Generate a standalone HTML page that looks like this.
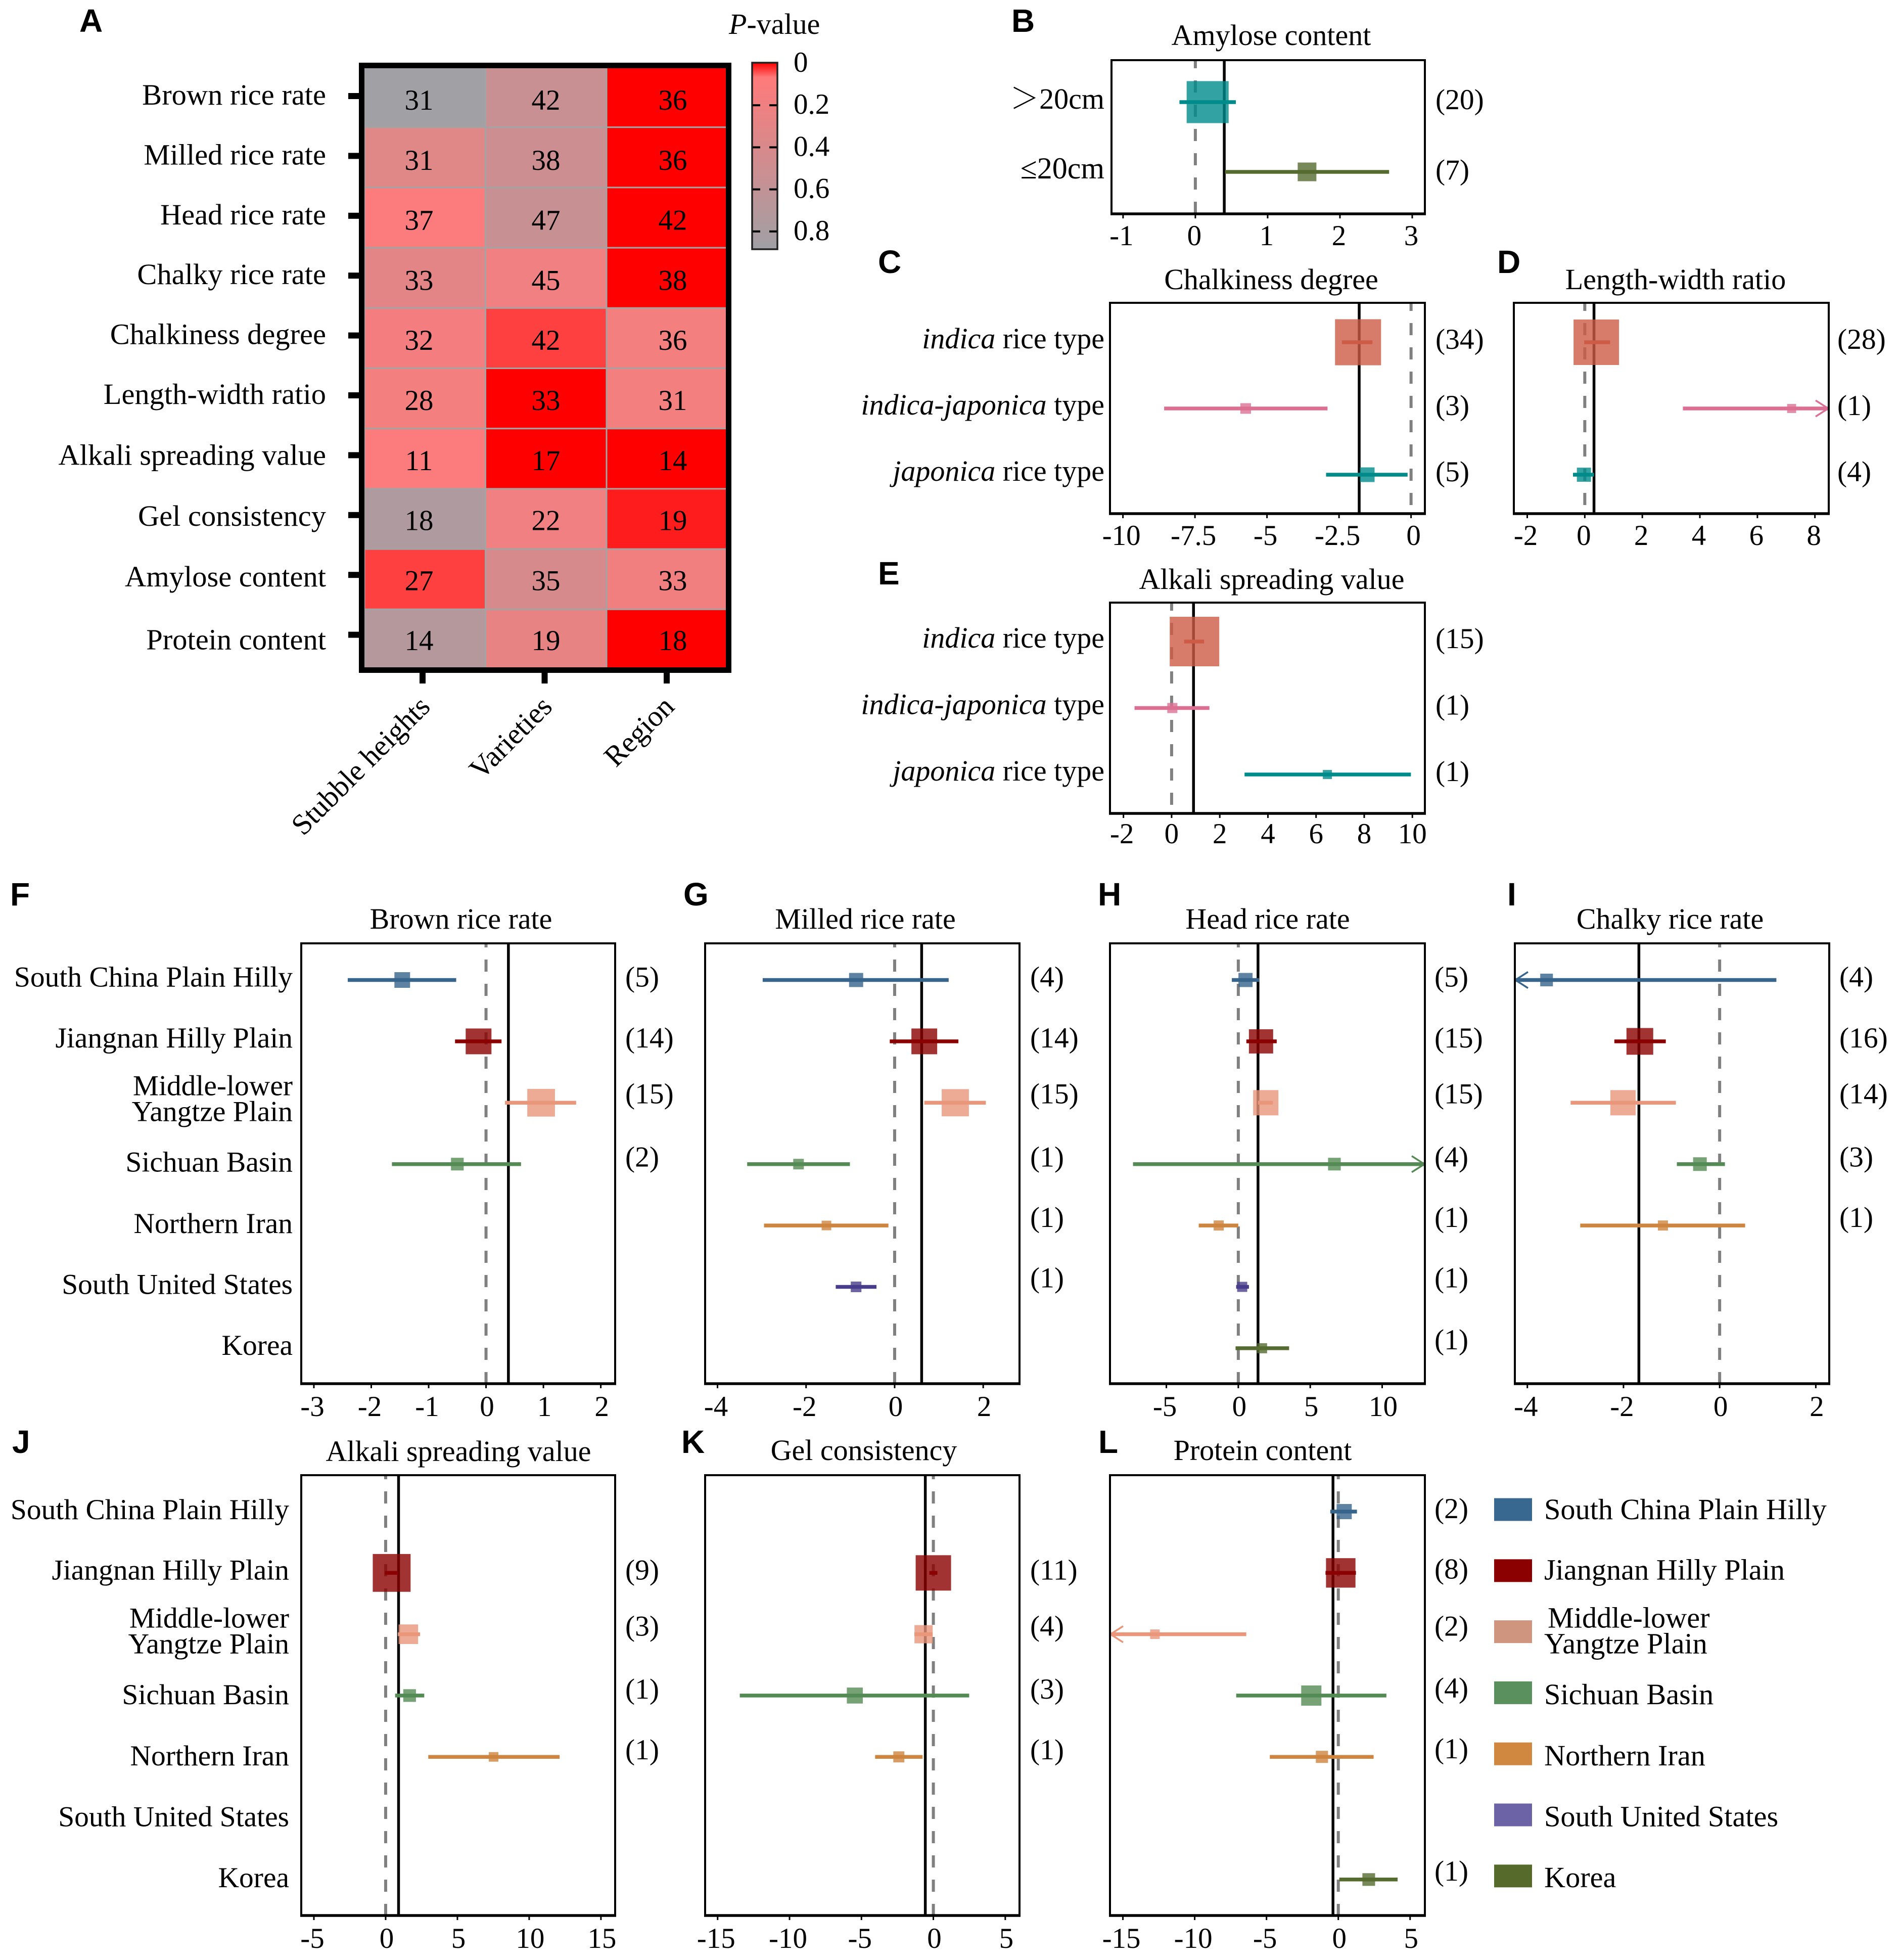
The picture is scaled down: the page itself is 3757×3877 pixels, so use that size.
<!DOCTYPE html>
<html lang="en">
<head>
<meta charset="utf-8">
<title>Rice quality meta-analysis figure</title>
<style>
html,body{margin:0;padding:0;background:#fff;width:3757px;height:3877px;overflow:hidden}
svg{display:block}
text{font-family:"Liberation Serif","Noto Serif CJK SC",serif;fill:#000;white-space:pre}
.letter{font-family:"Liberation Sans",sans-serif;font-weight:700;font-size:64px}
.title{font-size:58px;text-anchor:middle}
</style>
</head>
<body>
<svg id="figure" xmlns="http://www.w3.org/2000/svg" width="3757" height="3877" viewBox="0 0 3757 3877">
  <rect x="0" y="0" width="3757" height="3877" fill="#fff"/>
  <text class="letter" x="157" y="63">A</text>
  <text class="letter" x="2001" y="63">B</text>
  <text class="letter" x="1737" y="540">C</text>
  <text class="letter" x="2962" y="540">D</text>
  <text class="letter" x="1737" y="1156">E</text>
  <text class="letter" x="20" y="1791">F</text>
  <text class="letter" x="1352" y="1791">G</text>
  <text class="letter" x="2172" y="1791">H</text>
  <text class="letter" x="2982" y="1791">I</text>
  <text class="letter" x="24" y="2874">J</text>
  <text class="letter" x="1348" y="2874">K</text>
  <text class="letter" x="2173" y="2874">L</text>

  <text x="1442" y="67" font-size="58"><tspan font-style="italic">P</tspan>-value</text>

  <text class="title" x="2515" y="89">Amylose content</text>
  <text class="title" x="2515" y="572">Chalkiness degree</text>
  <text class="title" x="3315" y="572">Length-width ratio</text>
  <text class="title" x="2516" y="1165">Alkali spreading value</text>
  <text class="title" x="912" y="1837">Brown rice rate</text>
  <text class="title" x="1712" y="1837">Milled rice rate</text>
  <text class="title" x="2508" y="1837">Head rice rate</text>
  <text class="title" x="3304" y="1837">Chalky rice rate</text>
  <text class="title" x="907" y="2890">Alkali spreading value</text>
  <text class="title" x="1709" y="2888">Gel consistency</text>
  <text class="title" x="2498" y="2888">Protein content</text>
</svg>

<script>
// ---- Panel A: heatmap data ----
const traitLabels = ['Brown rice rate','Milled rice rate','Head rice rate','Chalky rice rate','Chalkiness degree','Length-width ratio','Alkali spreading value','Gel consistency','Amylose content','Protein content'];
const factorLabels = ['Stubble heights','Varieties','Region'];
const heatStudyCounts = [[31,42,36],[31,38,36],[37,47,42],[33,45,38],[32,42,36],[28,33,31],[11,17,14],[18,22,19],[27,35,33],[14,19,18]];
const heatPValues = [[0.88,0.545,0],[0.34,0.51,0],[0.1,0.55,0],[0.31,0.2,0],[0.165,0.037,0.17],[0.17,0,0.17],[0.1,0,0],[0.77,0.2,0.016],[0.037,0.42,0.18],[0.72,0.27,0]];
const colorbarTicks = [0,0.2,0.4,0.6,0.8];

// ---- Forest-plot categories ----
const regionNames = ['South China Plain Hilly','Jiangnan Hilly Plain','Middle-lower|Yangtze Plain','Sichuan Basin','Northern Iran','South United States','Korea'];
const riceTypeItalic = ['indica','indica-japonica','japonica'];
const riceTypeSuffix = [' rice type',' type',' rice type'];
const stubbleNames = ['\uFF1E20cm','\u226420cm'];

// ---- Panel B: Amylose content ----
const bMeans = [0.17,1.545];
const bLowers = [-0.22,0.41];
const bUppers = [0.56,2.68];
const bWeights = [69,13.7];
const bCounts = ['(20)','(7)'];
const bTicks = [-1,0,1,2,3];
const bPooled = [0.4];
const bDomain = [-1.16,3.175];
// ---- Panel C: Chalkiness degree ----
const cMeans = [-1.84,-5.74,-1.52];
const cLowers = [-2.4,-8.57,-2.95];
const cUppers = [-1.34,-2.9,-0.12];
const cWeights = [83,4.4,8.4];
const cCounts = ['(34)','(3)','(5)'];
const cTicks = [-10,-7.5,-5,-2.5,0];
const cPooled = [-1.8];
const cDomain = [-10.45,0.48];
// ---- Panel D: Length-width ratio ----
const dMeans = [0.4,7.19,-0.03];
const dLowers = [-0.02,3.41,-0.41];
const dUppers = [0.88,11,0.32];
const dWeights = [81,3.2,7.8];
const dCounts = ['(28)','(1)','(4)'];
const dTicks = [-2,0,2,4,6,8];
const dPooled = [0.32];
const dDomain = [-2.466,8.48];
// ---- Panel E: Alkali spreading value by type ----
const eMeans = [0.95,0.03,6.47];
const eLowers = [0.52,-1.54,3.03];
const eUppers = [1.35,1.57,9.94];
const eWeights = [96,4,3.2];
const eCounts = ['(15)','(1)','(1)'];
const eTicks = [-2,0,2,4,6,8,10];
const ePooled = [0.91];
const eDomain = [-2.56,10.52];
// ---- Panel F: Brown rice rate ----
const fMeans = [-1.46,-0.13,0.96,-0.5,null,null,null];
const fLowers = [-2.41,-0.54,0.33,-1.64,null,null,null];
const fUppers = [-0.52,0.27,1.57,0.61,null,null,null];
const fWeights = [9.6,26,30,6.3,null,null,null];
const fCounts = ['(5)','(14)','(15)','(2)','','',''];
const fTicks = [-3,-2,-1,0,1,2];
const fPooled = [0.39];
const fDomain = [-3.22,2.25];
// ---- Panel G: Milled rice rate ----
const gMeans = [-0.87,0.67,1.37,-2.17,-1.54,-0.87,null];
const gLowers = [-2.98,-0.11,0.67,-3.33,-2.95,-1.33,null];
const gUppers = [1.22,1.44,2.06,-1.01,-0.14,-0.41,null];
const gWeights = [7.8,26,29,4.4,3.6,4.4,null];
const gCounts = ['(4)','(14)','(15)','(1)','(1)','(1)',''];
const gTicks = [-4,-2,0,2];
const gPooled = [0.61];
const gDomain = [-4.28,2.82];
// ---- Panel H: Head rice rate ----
const hMeans = [0.5,1.58,1.91,6.68,-1.36,0.27,1.65];
const hLowers = [-0.45,0.56,1.37,-7.32,-2.75,-0.15,-0.19];
const hUppers = [1.45,2.67,2.41,14,0,0.74,3.53];
const hWeights = [7.8,23,25,6.3,4,4,4];
const hCounts = ['(5)','(15)','(15)','(4)','(1)','(1)','(1)'];
const hTicks = [-5,0,5,10];
const hPooled = [1.37];
const hDomain = [-8.92,12.97];
// ---- Panel I: Chalky rice rate ----
const iMeans = [-3.6,-1.66,-2.01,-0.41,-1.18,null,null];
const iLowers = [-5,-2.19,-3.1,-0.89,-2.9,null,null];
const iUppers = [1.18,-1.12,-0.91,0.11,0.53,null,null];
const iWeights = [6.3,28,25,7.3,4,null,null];
const iCounts = ['(4)','(16)','(14)','(3)','(1)','',''];
const iTicks = [-4,-2,0,2];
const iPooled = [-1.68];
const iDomain = [-4.26,2.28];
// ---- Panel J: Alkali spreading value by region ----
const jMeans = [null,0.42,1.58,1.67,7.52,null,null];
const jLowers = [null,-0.05,0.85,0.66,2.97,null,null];
const jUppers = [null,0.85,2.4,2.69,12.12,null,null];
const jWeights = [null,56,15,6.3,3.6,null,null];
const jCounts = ['','(9)','(3)','(1)','(1)','',''];
const jTicks = [-5,0,5,10,15];
const jPooled = [0.9];
const jDomain = [-5.88,15.99];
// ---- Panel K: Gel consistency ----
const kMeans = [null,0,-0.68,-5.46,-2.4,null,null];
const kLowers = [null,-0.28,-1.32,-13.46,-4.05,null,null];
const kUppers = [null,0.28,-0.05,2.49,-0.75,null,null];
const kWeights = [null,49,13,10,4.8,null,null];
const kCounts = ['','(11)','(4)','(3)','(1)','',''];
const kTicks = [-15,-10,-5,0,5];
const kPooled = [-0.56];
const kDomain = [-15.87,5.99];
// ---- Panel L: Protein content ----
const lMeans = [0.41,0.17,-12.77,-1.88,-1.14,null,2.12];
const lLowers = [-0.56,-0.89,-19,-7.11,-4.77,null,0.07];
const lUppers = [1.3,1.23,-6.41,3.35,2.46,null,4.13];
const lWeights = [9,34,3.6,16,5.8,null,6.3];
const lCounts = ['(2)','(8)','(2)','(4)','(1)','','(1)'];
const lTicks = [-15,-10,-5,0,5];
const lPooled = [-0.37];
const lDomain = [-15.9,6.03];

const SVGNS = 'http://www.w3.org/2000/svg';
const figure = document.getElementById('figure');
function add(parent, tag, attrs, text) {
  const e = document.createElementNS(SVGNS, tag);
  for (const k in attrs) e.setAttribute(k, attrs[k]);
  if (text !== undefined) e.textContent = text;
  parent.appendChild(e);
  return e;
}

// ---- Colour scale shared by heatmap and colour bar ----
function pColor(p) {
  const stops = [[0,255,0,0],[0.07,255,122,122],[0.89,160,160,165]];
  const v = Math.min(Math.max(p,0),0.89);
  const hi = v <= 0.07 ? 1 : 2;
  const a = stops[hi-1], b = stops[hi];
  const t = (v-a[0])/(b[0]-a[0]);
  return 'rgb('+[1,2,3].map(i => Math.round(a[i]+(b[i]-a[i])*t)).join(',')+')';
}

// ---- Panel A ----
const heatLabelNudges = [17,17,17,17,17,17,19,21,23,29];
(function drawHeatmap() {
  const g = add(figure,'g',{});
  
  
  const left = 721, top = 132.5, cw = 239.5, ch = 119.2;
  const tickY = i => 190 + i*118.4;
  const tickX = j => 836 + j*241.5;
  heatPValues.forEach((row,i) => {
    row.forEach((p,j) => {
      const cell = add(g,'rect',{x:left+j*cw,y:top+i*ch,width:cw,height:ch,fill:pColor(p),stroke:'#a3a3a3','stroke-width':3});
      
      
    });
  });
  heatStudyCounts.forEach((row,i) => {
    row.forEach((n,j) => {
      const t = add(g,'text',{x:829+j*251,y:217+i*118.8,'font-size':57,'text-anchor':'middle'},String(n));
      
      
    });
  });
  const frame = add(g,'rect',{x:715.5,y:129.5,width:726,height:1196,fill:'none',stroke:'#000','stroke-width':11});
  
  
  traitLabels.forEach((label,i) => {
    const tick = add(g,'rect',{x:689,y:tickY(i)-6,width:22,height:12,fill:'#000'});
    
    
    const t = add(g,'text',{x:645,y:tickY(i)+heatLabelNudges[i],'font-size':58.5,'text-anchor':'end'},label);
    
    
  });
  factorLabels.forEach((label,j) => {
    const tick = add(g,'rect',{x:tickX(j)-6,y:1330,width:12,height:22,fill:'#000'});
    
    
    const ax = tickX(j)+18, ay = 1401;
    const t = add(g,'text',{x:ax,y:ay,'font-size':58,'text-anchor':'end',transform:'rotate(-45 '+ax+' '+ay+')'},label);
    
    
  });

  // colour bar
  const defs = add(figure,'defs',{});
  const grad = add(defs,'linearGradient',{id:'pGradient',x1:0,y1:0,x2:0,y2:1});
  [0,0.01,0.07,0.2,0.4,0.6,0.8,0.89].forEach(p => {
    add(grad,'stop',{offset:(p/0.89*100)+'%','stop-color':pColor(p)});
  });
  const barY = p => 125 + p*416;
  const bar = add(g,'rect',{x:1488,y:124,width:50,height:369,fill:'url(#pGradient)',stroke:'#222','stroke-width':3.5});
  
  
  colorbarTicks.forEach(p => {
    if (p > 0) {
      const l = add(g,'rect',{x:1489,y:barY(p)-2,width:15,height:4,fill:'#000'});
      
      
      const r = add(g,'rect',{x:1522,y:barY(p)-2,width:15,height:4,fill:'#000'});
      
      
    }
    const t = add(g,'text',{x:1570,y:barY(p)+17,'font-size':57},String(p));
    
    
  });
})();

// ---- Forest plot renderer ----
const regionLineColors = ['#36648B','#8B0000','#E9967A','#548B54','#CD853F','#483D8B','#556B2F'];
const riceLineColors = ['#CD5B45','#DB7093','#008B8B'];
const stubbleLineColors = ['#008B8B','#556B2F'];

function drawForest(p) {
  const g = add(figure,'g',{});
  
  
  const x = v => p.x + (v-p.domain[0])/(p.domain[1]-p.domain[0])*p.w;
  const y = i => p.first + i*p.step;
  const bottom = p.y + p.h;

  // reference lines
  const nullLine = add(g,'line',{x1:x(0),x2:x(0),y1:p.y,y2:bottom,stroke:'#808080','stroke-width':6,'stroke-dasharray':'24 24','stroke-dashoffset':p.dashOffset});
  
  
  const pooled = add(g,'line',{x1:x(p.pooled[0]),x2:x(p.pooled[0]),y1:p.y,y2:bottom,stroke:'#000','stroke-width':5.5});
  
  

  // weight boxes, intervals, clipped arrows
  p.means.forEach((m,i) => {
    if (m === null) return;
    const side = 10*Math.sqrt(p.weights[i]);
    const box = add(g,'rect',{x:x(m)-side/2,y:y(i)-side/2,width:side,height:side,fill:p.colors[i],'fill-opacity':0.8});
    
    
    const lo = Math.max(p.lowers[i],p.domain[0]);
    const hi = Math.min(p.uppers[i],p.domain[1]);
    const ci = add(g,'line',{x1:x(lo),x2:x(hi),y1:y(i),y2:y(i),stroke:p.colors[i],'stroke-width':7.5});
    
    
    if (p.uppers[i] > p.domain[1]) {
      const e = x(p.domain[1]);
      const arrow = add(g,'polyline',{points:(e-26)+','+(y(i)-16)+' '+(e-1)+','+y(i)+' '+(e-26)+','+(y(i)+16),fill:'none',stroke:p.colors[i],'stroke-width':3.5});
      
      
    }
    if (p.lowers[i] < p.domain[0]) {
      const e = x(p.domain[0]);
      const arrow = add(g,'polyline',{points:(e+26)+','+(y(i)-16)+' '+(e+1)+','+y(i)+' '+(e+26)+','+(y(i)+16),fill:'none',stroke:p.colors[i],'stroke-width':3.5});
      
      
    }
  });

  // frame & axis
  const frame = add(g,'rect',{x:p.x,y:p.y,width:p.w,height:p.h,fill:'none',stroke:'#000','stroke-width':4});
  
  
  const axis = add(g,'line',{x1:p.x-2,x2:p.x+p.w+2,y1:bottom,y2:bottom,stroke:'#000','stroke-width':5.5});
  
  
  p.ticks.forEach(v => {
    const tick = add(g,'line',{x1:x(v),x2:x(v),y1:bottom,y2:bottom+9,stroke:'#000','stroke-width':3});
    
    
    const t = add(g,'text',{x:x(v)+(v<0?-3:p.posShift),y:bottom+p.tickDrop,'font-size':57,'text-anchor':'middle'},String(v));
    
    
  });

  // study counts
  p.counts.forEach((c,i) => {
    if (!c) return;
    const t = add(g,'text',{x:p.countX,y:y(i)+p.countOffsets[i],'font-size':57.5},c);
    
    
  });

  // row labels
  if (p.labelKind === 'region') {
    regionNames.forEach((name,i) => {
      const parts = name.split('|');
      if (parts.length === 2) {
        const t1 = add(g,'text',{x:p.labelX,y:y(i)-15+p.labelNudge,'font-size':57.5,'text-anchor':'end'},parts[0]);
        
        
        const t2 = add(g,'text',{x:p.labelX,y:y(i)+36+p.labelNudge,'font-size':57.5,'text-anchor':'end'},parts[1]);
        
        
      } else {
        const t = add(g,'text',{x:p.labelX,y:y(i)+p.labelOffsets[i]+p.labelNudge,'font-size':57.5,'text-anchor':'end'},name);
        
        
      }
    });
  } else if (p.labelKind === 'rice') {
    riceTypeItalic.forEach((word,i) => {
      const t = add(g,'text',{x:p.labelX,y:y(i)+12,'font-size':58,'text-anchor':'end'});
      
      
      add(t,'tspan',{'font-style':'italic'},word);
      add(t,'tspan',{},riceTypeSuffix[i]);
    });
  } else if (p.labelKind === 'stubble') {
    stubbleNames.forEach((name,i) => {
      const t = add(g,'text',{x:p.labelX,y:y(i)+13,'font-size':i===1?60:58,'text-anchor':'end'},name);
      
      
    });
  }
}

const upperCountOffsets = [13,12,1,5,3,1,2];
const lowerCountOffsets = [13,11,3,4,3,2,2];
const upperLabelOffsets = [13,12,0,15,15,14,13];
const lowerLabelOffsets = [13,11,0,15,15,14,13];
const riceCountOffsets = [13,13,13];

drawForest({id:'panel-b',x:2199,y:119,w:620,h:304,first:202,step:138,domain:bDomain,ticks:bTicks,pooled:bPooled,means:bMeans,lowers:bLowers,uppers:bUppers,weights:bWeights,counts:bCounts,colors:stubbleLineColors,countX:2840,countOffsets:[14,15],labelKind:'stubble',labelX:2185,dashOffset:8,posShift:-2,tickDrop:62});
drawForest({id:'panel-c',x:2196,y:599,w:623,h:417,first:677,step:131,domain:cDomain,ticks:cTicks,pooled:cPooled,means:cMeans,lowers:cLowers,uppers:cUppers,weights:cWeights,counts:cCounts,colors:riceLineColors,countX:2840,countOffsets:riceCountOffsets,labelKind:'rice',labelX:2185,dashOffset:8,posShift:5,tickDrop:62});
drawForest({id:'panel-d',x:2995,y:599,w:623,h:417,first:677,step:131,domain:dDomain,ticks:dTicks,pooled:dPooled,means:dMeans,lowers:dLowers,uppers:dUppers,weights:dWeights,counts:dCounts,colors:riceLineColors,countX:3635,countOffsets:riceCountOffsets,labelKind:'none',dashOffset:8,posShift:-2,tickDrop:62});
drawForest({id:'panel-e',x:2196,y:1192,w:623,h:417,first:1269,step:131.5,domain:eDomain,ticks:eTicks,pooled:ePooled,means:eMeans,lowers:eLowers,uppers:eUppers,weights:eWeights,counts:eCounts,colors:riceLineColors,countX:2840,countOffsets:riceCountOffsets,labelKind:'rice',labelX:2185,dashOffset:8,posShift:0,tickDrop:59});

drawForest({id:'panel-f',x:596,y:1866,w:621,h:871,first:1938.5,step:121.4,domain:fDomain,ticks:fTicks,pooled:fPooled,means:fMeans,lowers:fLowers,uppers:fUppers,weights:fWeights,counts:fCounts,colors:regionLineColors,countX:1237,countOffsets:upperCountOffsets,labelKind:'region',labelX:579,labelNudge:0,labelOffsets:upperLabelOffsets,dashOffset:16,posShift:2,tickDrop:64});
drawForest({id:'panel-g',x:1395,y:1866,w:622,h:871,first:1938.5,step:121.4,domain:gDomain,ticks:gTicks,pooled:gPooled,means:gMeans,lowers:gLowers,uppers:gUppers,weights:gWeights,counts:gCounts,colors:regionLineColors,countX:2038,countOffsets:upperCountOffsets,labelKind:'none',dashOffset:16,posShift:2,tickDrop:64});
drawForest({id:'panel-h',x:2196,y:1866,w:623,h:871,first:1938.5,step:121.4,domain:hDomain,ticks:hTicks,pooled:hPooled,means:hMeans,lowers:hLowers,uppers:hUppers,weights:hWeights,counts:hCounts,colors:regionLineColors,countX:2838,countOffsets:upperCountOffsets,labelKind:'none',dashOffset:16,posShift:2,tickDrop:64});
drawForest({id:'panel-i',x:2997,y:1866,w:622,h:871,first:1938.5,step:121.4,domain:iDomain,ticks:iTicks,pooled:iPooled,means:iMeans,lowers:iLowers,uppers:iUppers,weights:iWeights,counts:iCounts,colors:regionLineColors,countX:3639,countOffsets:upperCountOffsets,labelKind:'none',dashOffset:16,posShift:2,tickDrop:64});

drawForest({id:'panel-j',x:596,y:2918,w:621,h:871,first:2990,step:121.3,domain:jDomain,ticks:jTicks,pooled:jPooled,means:jMeans,lowers:jLowers,uppers:jUppers,weights:jWeights,counts:jCounts,colors:regionLineColors,countX:1237,countOffsets:[13,13,3,6,5,2,2],labelKind:'region',labelX:572,labelNudge:2,labelOffsets:lowerLabelOffsets,dashOffset:16,posShift:2,tickDrop:64});
drawForest({id:'panel-k',x:1395,y:2918,w:622,h:871,first:2990,step:121.3,domain:kDomain,ticks:kTicks,pooled:kPooled,means:kMeans,lowers:kLowers,uppers:kUppers,weights:kWeights,counts:kCounts,colors:regionLineColors,countX:2038,countOffsets:[13,13,3,6,5,2,2],labelKind:'none',dashOffset:16,posShift:2,tickDrop:64});
drawForest({id:'panel-l',x:2196,y:2918,w:623,h:871,first:2990,step:121.3,domain:lDomain,ticks:lTicks,pooled:lPooled,means:lMeans,lowers:lLowers,uppers:lUppers,weights:lWeights,counts:lCounts,colors:regionLineColors,countX:2838,countOffsets:lowerCountOffsets,labelKind:'none',dashOffset:16,posShift:2,tickDrop:64});

// ---- Legend ----
const legendColors = ['#38678F','#8B0000','#D0957F','#5A8F5E','#D0873F','#6C63A6','#566B2B'];
(function drawLegend() {
  const g = add(figure,'g',{});
  
  
  regionNames.forEach((name,i) => {
    const cy = 2986 + i*120.8;
    const swatch = add(g,'rect',{x:2956,y:cy-22.5,width:75,height:45,fill:legendColors[i]});
    
    
    const rowY = 2990 + i*121.3;
    const parts = name.split('|');
    if (parts.length === 2) {
      const t1 = add(g,'text',{x:3062,y:rowY-13,'font-size':58.3},parts[0]);
      
      
      const t2 = add(g,'text',{x:3055,y:rowY+38,'font-size':58.3},parts[1]);
      
      
    } else {
      const t = add(g,'text',{x:3055,y:rowY+lowerLabelOffsets[i]+2,'font-size':58.3},name);
      
      
    }
  });
})();
</script>
</body>
</html>
